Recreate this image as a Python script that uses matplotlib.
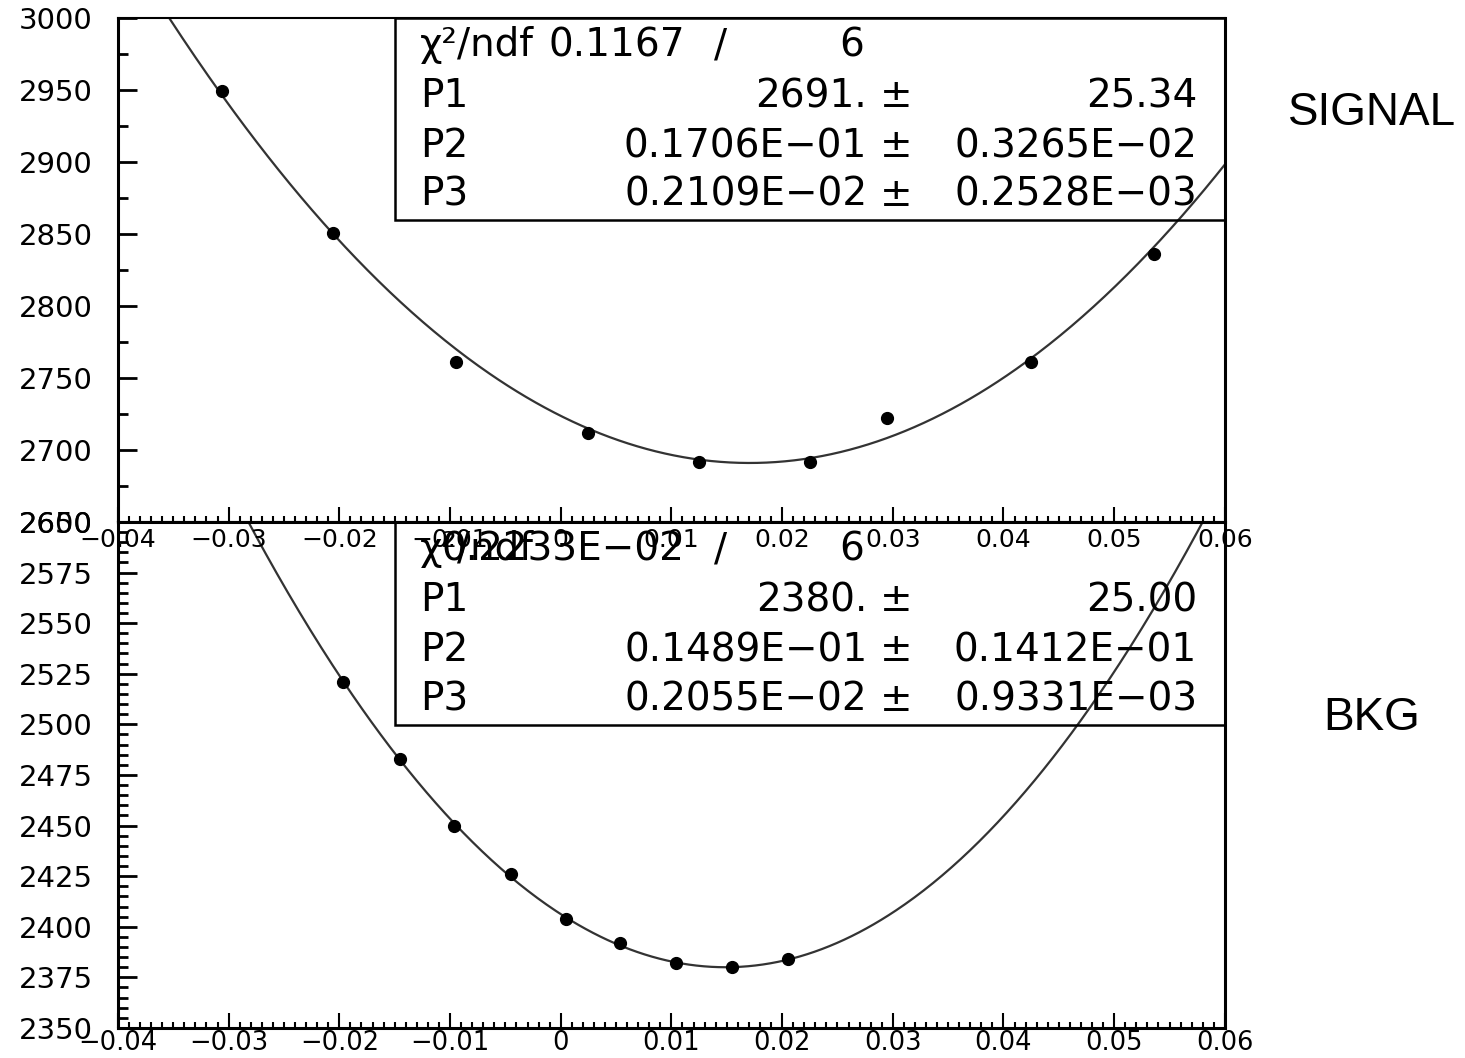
import matplotlib
matplotlib.use("Agg")
import matplotlib.pyplot as plt
from matplotlib.patches import Rectangle
from matplotlib.ticker import MultipleLocator
import numpy as np

# measured points
sig_x = [-0.0306, -0.0206, -0.0095, 0.0025, 0.0125, 0.0225, 0.0295, 0.0425, 0.0536]
sig_y = [2949, 2851, 2761, 2712, 2692, 2692, 2722, 2761, 2836]
bkg_x = [-0.0197, -0.0145, -0.0096, -0.0045, 0.0005, 0.0054, 0.0104, 0.0155, 0.0205]
bkg_y = [2521, 2483, 2450, 2426, 2404, 2392, 2382, 2380, 2384]

# fit results: chi2, ndf, (value, error) for P1..P3
sig_chi2, sig_ndf = "0.1167", "6"
sig_par = [("2691.", "25.34"), ("0.1706E\u221201", "0.3265E\u221202"), ("0.2109E\u221202", "0.2528E\u221203")]
sig_p = [2691.0, 0.01706, 0.002109]
bkg_chi2, bkg_ndf = "0.2233E\u221202", "6"
bkg_par = [("2380.", "25.00"), ("0.1489E\u221201", "0.1412E\u221201"), ("0.2055E\u221202", "0.9331E\u221203")]
bkg_p = [2380.0, 0.01489, 0.002055]


def parab(x, p):
    return p[0] + 0.5 * ((x - p[1]) / p[2]) ** 2


def style(ax, ymin, ymax, ymaj, ymin_step, lsize, xpad):
    ax.set_xlim(-0.04, 0.06)
    ax.set_ylim(ymin, ymax)
    ax.xaxis.set_major_locator(MultipleLocator(0.01))
    ax.xaxis.set_minor_locator(MultipleLocator(0.001))
    ax.yaxis.set_major_locator(MultipleLocator(ymaj))
    ax.yaxis.set_minor_locator(MultipleLocator(ymin_step))
    ax.tick_params(axis="y", which="major", direction="in", length=14, width=2, pad=18, labelsize=21)
    ax.tick_params(axis="y", which="minor", direction="in", length=7, width=2)
    ax.tick_params(axis="x", which="major", direction="in", length=11, width=1.5, pad=xpad, labelsize=lsize)
    ax.tick_params(axis="x", which="minor", direction="in", length=4, width=1.5)
    for s in ax.spines.values():
        s.set_linewidth(2.2)
    ax.spines["top"].set_linewidth(1.5)
    ax.xaxis.set_major_formatter(plt.FuncFormatter(
        lambda v, _: "0" if abs(v) < 1e-9 else ("%.2f" % v).replace("-", "\u2212")))


def stats(ax, chi2, ndf, pars):
    fs = 28
    ax.add_patch(Rectangle((0.2502, 0.599), 0.7498, 0.401, transform=ax.transAxes,
                           facecolor="none", edgecolor="black", lw=1.8, clip_on=False, zorder=5))
    rows = [0.946, 0.845, 0.746, 0.649]
    ax.text(0.2728, rows[0], "\u03c7\u00b2/ndf", transform=ax.transAxes, fontsize=fs, va="center", ha="left")
    ax.text(0.512, rows[0], chi2, transform=ax.transAxes, fontsize=fs, va="center", ha="right")
    ax.text(0.544, rows[0], "/", transform=ax.transAxes, fontsize=fs, va="center", ha="center")
    ax.text(0.663, rows[0], ndf, transform=ax.transAxes, fontsize=fs, va="center", ha="center")
    for i, (val, err) in enumerate(pars):
        y = rows[i + 1]
        ax.text(0.2728, y, "P%d" % (i + 1), transform=ax.transAxes, fontsize=fs, va="center", ha="left")
        ax.text(0.677, y, val, transform=ax.transAxes, fontsize=fs, va="center", ha="right")
        ax.text(0.703, y, "\u00b1", transform=ax.transAxes, fontsize=fs, va="center", ha="center")
        ax.text(0.975, y, err, transform=ax.transAxes, fontsize=fs, va="center", ha="right")


fig = plt.figure(figsize=(14.65, 10.58), dpi=100)
ax_b = fig.add_axes([0.0805, 0.0284, 0.7556, 0.4783])
ax_t = fig.add_axes([0.0805, 0.5066, 0.7556, 0.4764])
ax_t.patch.set_alpha(0)

xs = np.linspace(-0.04, 0.06, 600)
for ax, px, py, p in [(ax_t, sig_x, sig_y, sig_p), (ax_b, bkg_x, bkg_y, bkg_p)]:
    ax.plot(xs, parab(xs, p), color="#333333", lw=1.6)
    ax.plot(px, py, "o", color="black", ms=8.5)

style(ax_t, 2650, 3000, 50, 25, 18, 4)
style(ax_b, 2350, 2600, 25, 5, 18.5, 1.5)
stats(ax_t, sig_chi2, sig_ndf, sig_par)
stats(ax_b, bkg_chi2, bkg_ndf, bkg_par)

fig.text(0.9365, 0.893, "SIGNAL", fontsize=33, family="Liberation Sans", ha="center", va="center")
fig.text(0.9365, 0.321, "BKG", fontsize=33, family="Liberation Sans", ha="center", va="center")

fig.savefig("out.png", dpi=100)
